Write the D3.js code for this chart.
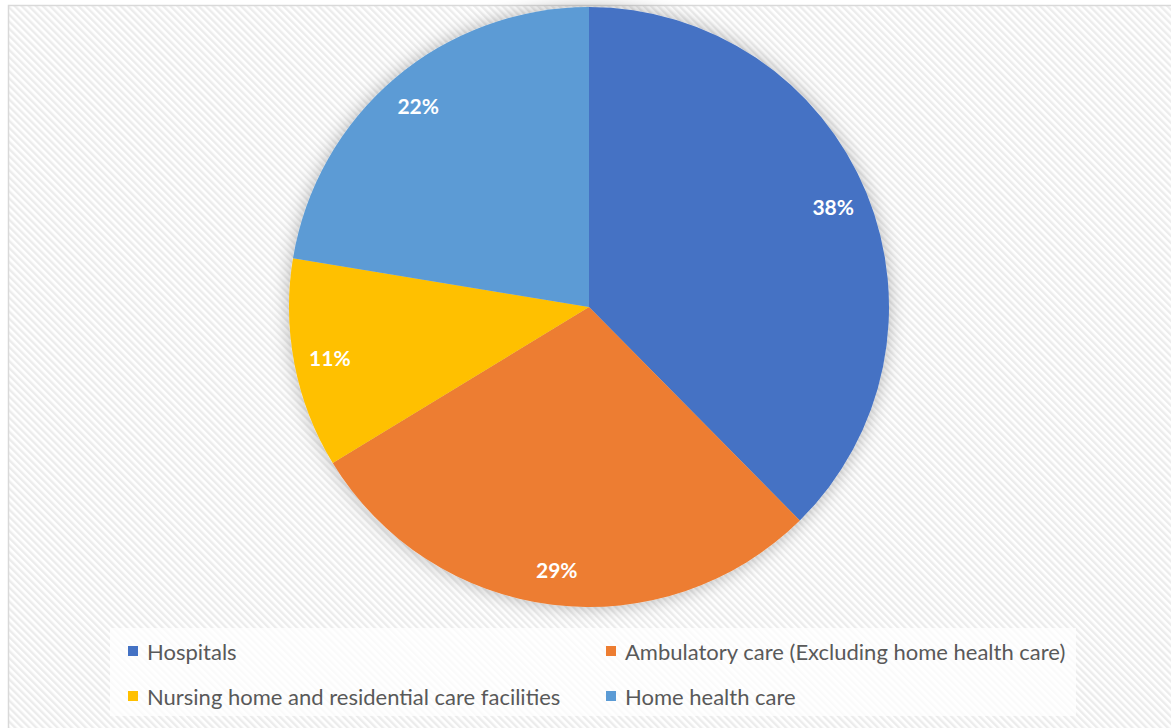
<!DOCTYPE html>
<html>
<head>
<meta charset="utf-8">
<script src="https://cdn.jsdelivr.net/npm/d3@7"></script>
<style>
  html, body { margin: 0; padding: 0; background: #ffffff; }
  svg { display: block; }
</style>
</head>
<body>
<svg id="chart" width="1171" height="728"></svg>
<script>
const categories = [
  "Hospitals",
  "Ambulatory care (Excluding home health care)",
  "Nursing home and residential care facilities",
  "Home health care"
];
const values = [37.6, 28.7, 11.3, 22.4];
const colors = ["#4472C4", "#ED7D31", "#FFC000", "#5B9BD5"];

const W = 1171, H = 728;
const svg = d3.select("#chart");
const defs = svg.append("defs");

// diagonal stripe background
const pat = defs.append("pattern")
  .attr("id", "stripes")
  .attr("patternUnits", "userSpaceOnUse")
  .attr("width", 5).attr("height", 5)
  .attr("patternTransform", "rotate(-45)");
pat.append("rect").attr("width", 5).attr("height", 5).attr("fill", "#ffffff");
pat.append("rect").attr("width", 2.4).attr("height", 5).attr("fill", "#ececec");

// soft shadow filter
const f = defs.append("filter").attr("id", "shadow")
  .attr("x", "-20%").attr("y", "-20%").attr("width", "140%").attr("height", "140%");
f.append("feGaussianBlur").attr("in", "SourceAlpha").attr("stdDeviation", 9).attr("result", "blur");
f.append("feFlood").attr("flood-color", "#000").attr("flood-opacity", 0.28).attr("result", "col");
f.append("feComposite").attr("in", "col").attr("in2", "blur").attr("operator", "in").attr("result", "sh");
const m = f.append("feMerge");
m.append("feMergeNode").attr("in", "sh");
m.append("feMergeNode").attr("in", "SourceGraphic");

// chart area
svg.append("rect")
  .attr("x", 8.5).attr("y", 5.5).attr("width", W + 10).attr("height", H + 10)
  .attr("fill", "url(#stripes)")
  .attr("stroke", "#d9d9d9").attr("stroke-width", 1.5);

// pie
const cx = 589, cy = 307, R = 300;
const pie = d3.pie().sort(null).value(d => d)(values);
const arc = d3.arc().innerRadius(0).outerRadius(R);
const labelArc = d3.arc().innerRadius(R * 0.76).outerRadius(R);

const g = svg.append("g").attr("transform", `translate(${cx},${cy})`);
g.append("g").attr("filter", "url(#shadow)")
  .selectAll("path").data(pie).join("path")
  .attr("d", arc)
  .attr("fill", (d, i) => colors[i]);

g.selectAll("text.lbl").data(pie).join("text")
  .attr("class", "lbl")
  .attr("transform", d => `translate(${labelArc.centroid(d)})`)
  .attr("text-anchor", "middle")
  .attr("dominant-baseline", "central")
  .attr("font-family", "Lato, 'Open Sans', sans-serif")
  .attr("font-weight", "bold")
  .attr("font-size", 21)
  .attr("fill", "#ffffff")
  .text(d => Math.round(d.data) + "%");

// legend
svg.append("rect")
  .attr("x", 110).attr("y", 628).attr("width", 966).attr("height", 88)
  .attr("fill", "#ffffff").attr("fill-opacity", 0.75);

const legendPos = [
  {x: 128, y: 651}, {x: 606, y: 651},
  {x: 128, y: 696}, {x: 606, y: 696}
];
const lg = svg.append("g");
categories.forEach((c, i) => {
  const p = legendPos[i];
  lg.append("rect")
    .attr("x", p.x).attr("y", p.y - 5).attr("width", 10).attr("height", 10)
    .attr("fill", colors[i]);
  lg.append("text")
    .attr("x", p.x + 19).attr("y", p.y)
    .attr("dominant-baseline", "central")
    .attr("font-family", "Lato, 'Open Sans', sans-serif")
    .attr("font-size", 22)
    .attr("fill", "#595959")
    .text(c);
});
</script>
</body>
</html>
